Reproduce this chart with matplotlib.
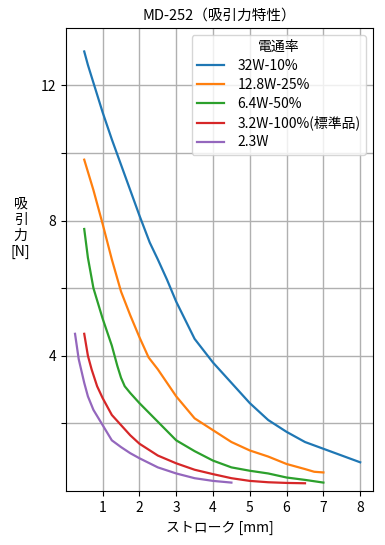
import numpy as np
import matplotlib.pyplot as plt

plt.rcParams['font.family'] = ['Noto Sans CJK JP', 'DejaVu Sans']

# данные: ход [mm] и сила [N]
x_32 = [0.5, 0.6, 0.8, 1, 1.25, 1.5, 1.75, 2, 2.28, 2.5, 2.75, 3, 3.25, 3.5, 4, 4.5, 5, 5.5, 6, 6.5, 7, 7.5, 8]
y_32 = [13.0, 12.6, 11.9, 11.2, 10.4, 9.65, 8.9, 8.15, 7.35, 6.85, 6.25, 5.6, 5.05, 4.5, 3.8, 3.2, 2.6, 2.1, 1.75, 1.45, 1.25, 1.05, 0.85]

x_128 = [0.5, 0.75, 1, 1.25, 1.5, 1.75, 2, 2.25, 2.5, 2.75, 3, 3.5, 4, 4.5, 5, 5.5, 6, 6.5, 6.75, 7]
y_128 = [9.8, 8.9, 7.9, 6.85, 5.9, 5.2, 4.55, 3.95, 3.6, 3.2, 2.8, 2.15, 1.8, 1.45, 1.2, 1.02, 0.8, 0.65, 0.57, 0.55]

x_64 = [0.5, 0.6, 0.75, 1, 1.25, 1.4, 1.5, 1.6, 1.75, 2, 2.5, 3, 3.5, 4, 4.5, 5, 5.5, 6, 6.5, 7]
y_64 = [7.75, 6.9, 6.0, 5.1, 4.3, 3.7, 3.35, 3.1, 2.9, 2.6, 2.05, 1.5, 1.18, 0.9, 0.7, 0.6, 0.52, 0.4, 0.33, 0.25]

x_32b = [0.5, 0.6, 0.7, 0.85, 1, 1.25, 1.5, 1.75, 2, 2.5, 3, 3.5, 4, 4.5, 5, 5.5, 6, 6.5]
y_32b = [4.65, 4.0, 3.6, 3.1, 2.75, 2.25, 1.95, 1.65, 1.4, 1.05, 0.82, 0.63, 0.5, 0.38, 0.3, 0.26, 0.24, 0.23]

x_23 = [0.25, 0.35, 0.5, 0.6, 0.75, 1, 1.25, 1.5, 1.75, 2, 2.5, 3, 3.5, 4, 4.5]
y_23 = [4.65, 3.9, 3.2, 2.8, 2.4, 1.95, 1.5, 1.3, 1.12, 0.97, 0.7, 0.52, 0.38, 0.3, 0.25]

labels = ['32W-10%', '12.8W-25%', '6.4W-50%', '3.2W-100%(標準品)', '2.3W']
colors = ['#1f77b4', '#ff7f0e', '#2ca02c', '#d62728', '#9467bd']

fig = plt.figure(figsize=(3.85, 5.45), dpi=100)
ax = fig.add_axes([0.171, 0.099, 0.798, 0.850])

series = [(x_32, y_32), (x_128, y_128), (x_64, y_64), (x_32b, y_32b), (x_23, y_23)]
for (xs, ys), lab, c in zip(series, labels, colors):
    ax.plot(xs, ys, color=c, linewidth=1.6, label=lab)

ax.set_xlim(0, 8.35)
ax.set_ylim(0, 13.7)
ax.set_xticks(range(1, 9))
ax.set_yticks([2, 4, 6, 8, 10, 12])
ax.set_yticklabels(['', '4', '', '8', '', '12'])
ax.tick_params(labelsize=10)
ax.grid(True, color='#b0b0b0', linewidth=1)

ax.set_title('MD-252（吸引力特性）', fontsize=10.5)
ax.set_xlabel('ストローク [mm]', fontsize=10)
ax.set_ylabel('吸\n引\n力\n[N]', rotation=0, fontsize=10, va='center', ha='center')
ax.yaxis.set_label_coords(-0.147, 0.568)

ax.legend(title='電通率', fontsize=10, title_fontsize=10, loc='upper right',
          labelspacing=0.35, handletextpad=1.0, handlelength=1.9)

fig.savefig('out.png', dpi=100)
